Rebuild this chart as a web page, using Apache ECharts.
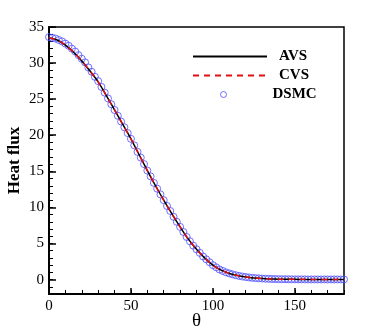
<!DOCTYPE html>
<html lang="en">
<head>
    <meta charset="utf-8">
    <script src="https://cdn.jsdelivr.net/npm/echarts@6/dist/echarts.min.js"></script>
    <style>
        html, body {
            margin: 0px;
            padding: 0px;
            background: #fff;
        }
        #chart {
            width: 374px;
            height: 332px;
        }
    </style>
</head>
<body>
<div id="chart"></div>
<script type="text/javascript">
    // angle samples for the two solver curves (every 5 deg)
    var lineTheta = [0, 5, 10, 15, 20, 25, 30, 35, 40, 45, 50, 55, 60, 65, 70, 75, 80, 85, 90,
        95, 100, 105, 110, 115, 120, 125, 130, 135, 140, 145, 150, 155, 160, 165, 170, 175, 180];
    var avsFlux = [33.5, 33.2, 32.5, 31.5, 30.3, 28.9, 27.4, 25.5, 23.5, 21.5, 19.5, 17.3, 15.1, 13.0,
        11.0, 9.1, 7.3, 5.6, 4.2, 3.0, 2.0, 1.3, 0.85, 0.55, 0.35, 0.22, 0.14, 0.09, 0.06, 0.04,
        0.03, 0.02, 0.02, 0.02, 0.02, 0.02, 0.02];
    var cvsFlux = [33.5, 33.2, 32.5, 31.5, 30.3, 28.9, 27.4, 25.5, 23.5, 21.5, 19.5, 17.3, 15.1, 13.0,
        11.0, 9.1, 7.3, 5.6, 4.2, 3.0, 2.0, 1.3, 0.85, 0.55, 0.35, 0.22, 0.14, 0.09, 0.06, 0.04,
        0.03, 0.03, 0.02, 0.02, 0.02, 0.02, 0.02];

    // DSMC samples (every 2 deg)
    var dsmcTheta = [0, 2, 4, 6, 8, 10, 12, 14, 16, 18, 20, 22, 24, 26, 28, 30, 32, 34, 36, 38,
        40, 42, 44, 46, 48, 50, 52, 54, 56, 58, 60, 62, 64, 66, 68, 70, 72, 74, 76, 78,
        80, 82, 84, 86, 88, 90, 92, 94, 96, 98, 100, 102, 104, 106, 108, 110, 112, 114, 116, 118,
        120, 122, 124, 126, 128, 130, 132, 134, 136, 138, 140, 142, 144, 146, 148, 150, 152, 154, 156, 158,
        160, 162, 164, 166, 168, 170, 172, 174, 176, 178, 180];
    var dsmcFlux = [33.6, 33.5, 33.4, 33.2, 33.0, 32.7, 32.4, 32.0, 31.6, 31.1, 30.6, 30.1, 29.4, 28.8, 28.1,
        27.5, 26.7, 25.9, 25.1, 24.3, 23.5, 22.7, 21.9, 21.1, 20.3, 19.5, 18.6, 17.7, 16.9, 16.0,
        15.1, 14.3, 13.4, 12.6, 11.8, 11.0, 10.2, 9.5, 8.7, 8.0, 7.3, 6.6, 5.9, 5.3, 4.7,
        4.2, 3.7, 3.2, 2.8, 2.4, 2.0, 1.7, 1.4, 1.2, 1.0, 0.85, 0.72, 0.6, 0.5, 0.42,
        0.35, 0.29, 0.24, 0.2, 0.17, 0.14, 0.12, 0.1, 0.08, 0.07, 0.06, 0.05, 0.05, 0.04, 0.04,
        0.03, 0.03, 0.03, 0.03, 0.02, 0.02, 0.02, 0.02, 0.02, 0.02, 0.02, 0.02, 0.02, 0.02, 0.02, 0.02];

    var xMajor = [0, 50, 100, 150];
    var xMinor = [0, 10, 20, 30, 40, 50, 60, 70, 80, 90, 100, 110, 120, 130, 140, 150, 160, 170, 180];
    var yMajor = [0, 5, 10, 15, 20, 25, 30, 35];
    var yMinor = [-2, -1, 0, 1, 2, 3, 4, 5, 6, 7, 8, 9, 10, 11, 12, 13, 14, 15, 16, 17, 18, 19,
        20, 21, 22, 23, 24, 25, 26, 27, 28, 29, 30, 31, 32, 33, 34, 35];

    var serif = '"Liberation Serif", "Times New Roman", serif';
    var dsmcStyle = {color: 'rgba(0,0,0,0)', borderColor: '#4d4dff', borderWidth: 1};

    function pairs(xs, ys) {
        var out = [];
        for (var i = 0; i < xs.length; i++) {
            out.push([xs[i], ys[i]]);
        }
        return out;
    }

    function legendRow(name, left, top, w, h, itemStyle) {
        return {
            data: [name],
            left: left,
            top: top,
            itemWidth: w,
            itemHeight: h,
            selectedMode: false,
            itemStyle: itemStyle,
            textStyle: {
                fontFamily: serif,
                fontWeight: 'bold',
                fontSize: 15,
                color: '#000',
                padding: [0, 0, 0, 7]
            }
        };
    }

    var myChart = echarts.init(document.getElementById('chart'));

    var option = {
        animation: false,
        grid: {
            left: 49,
            right: 30,
            top: 27,
            bottom: 38,
            outerBoundsMode: 'none',
            show: true,
            borderColor: '#000',
            borderWidth: 1.5,
            backgroundColor: 'transparent'
        },
        legend: [
            legendRow('AVS', 187, 44, 74, 10, {opacity: 0}),
            legendRow('CVS', 187, 63, 74, 10, {opacity: 0}),
            legendRow('DSMC', 215, 82, 74, 6, dsmcStyle)
        ],
        xAxis: [{
            type: 'value',
            min: 0,
            max: 180,
            name: 'θ',
            nameLocation: 'middle',
            nameGap: 18,
            nameMoveOverlap: false,
            nameTextStyle: {fontFamily: serif, fontSize: 19, color: '#000'},
            axisLine: {show: true, onZero: false, lineStyle: {color: '#000', width: 2}},
            axisTick: {show: true, inside: true, length: 6, customValues: xMajor, lineStyle: {color: '#000', width: 1.5}},
            axisLabel: {customValues: xMajor, fontFamily: serif, fontSize: 15, color: '#000', margin: 5},
            splitLine: {show: false}
        }, {
            type: 'value',
            min: 0,
            max: 180,
            position: 'bottom',
            axisLine: {show: false, onZero: false},
            axisTick: {show: true, inside: true, length: 4, customValues: xMinor, lineStyle: {color: '#000', width: 1}},
            axisLabel: {show: false},
            splitLine: {show: false}
        }],
        yAxis: [{
            type: 'value',
            min: -2,
            max: 35,
            name: 'Heat flux',
            nameLocation: 'middle',
            nameGap: 26,
            nameMoveOverlap: false,
            nameTextStyle: {fontFamily: serif, fontSize: 17, fontWeight: 'bold', color: '#000'},
            axisLine: {show: true, onZero: false, lineStyle: {color: '#000', width: 2}},
            axisTick: {show: true, inside: true, length: 7, customValues: yMajor, lineStyle: {color: '#000', width: 1.5}},
            axisLabel: {customValues: yMajor, fontFamily: serif, fontSize: 15, color: '#000', margin: 5},
            splitLine: {show: false}
        }, {
            type: 'value',
            min: -2,
            max: 35,
            position: 'left',
            axisLine: {show: false, onZero: false},
            axisTick: {show: true, inside: true, length: 4, customValues: yMinor, lineStyle: {color: '#000', width: 1}},
            axisLabel: {show: false},
            splitLine: {show: false}
        }],
        series: [{
            name: 'DSMC',
            type: 'scatter',
            z: 1,
            symbol: 'circle',
            symbolSize: 7,
            itemStyle: dsmcStyle,
            data: pairs(dsmcTheta, dsmcFlux)
        }, {
            name: 'AVS',
            type: 'line',
            z: 3,
            symbol: 'none',
            smooth: 0.3,
            lineStyle: {color: '#000', width: 1.5},
            itemStyle: {color: '#000'},
            data: pairs(lineTheta, avsFlux)
        }, {
            name: 'CVS',
            type: 'line',
            z: 4,
            symbol: 'none',
            smooth: 0.3,
            lineStyle: {color: '#e01010', width: 1.5, type: [6, 5]},
            itemStyle: {color: '#e01010'},
            data: pairs(lineTheta, cvsFlux)
        }]
    };

    myChart.setOption(option, true);
</script>
</body>
</html>
